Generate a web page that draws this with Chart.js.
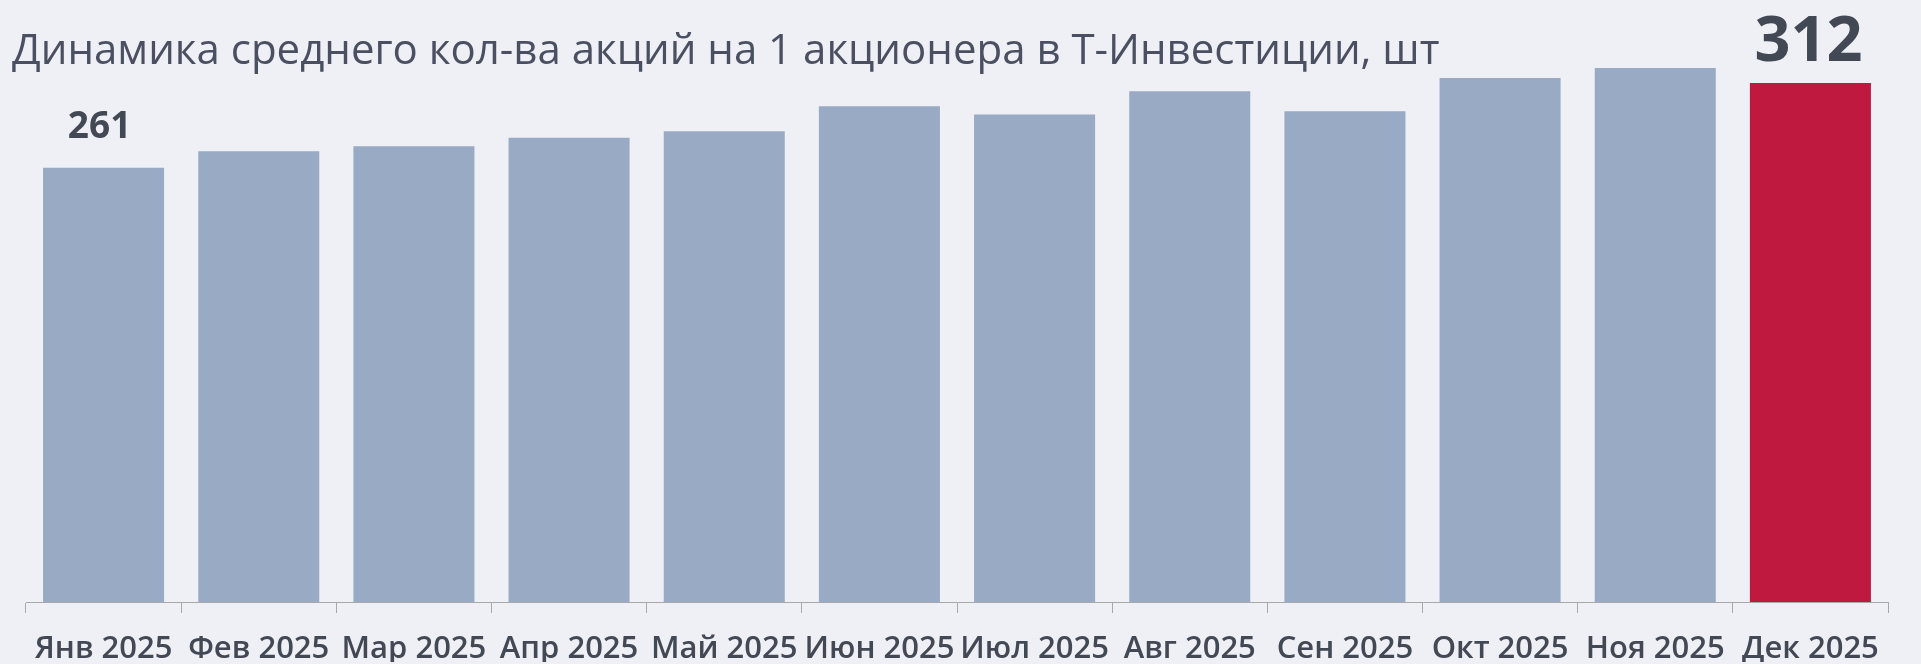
<!DOCTYPE html>
<html>
<head>
<meta charset="utf-8">
<script src="https://cdn.jsdelivr.net/npm/chart.js@4/dist/chart.umd.min.js"></script>
<style>
  html, body { margin: 0; padding: 0; background: #eff0f5; }
  #wrap { position: relative; width: 1921px; height: 664px; }
  #title {
    position: absolute; left: 12px; top: 27px;
    font-family: "Open Sans", sans-serif; font-size: 42px; line-height: 42px;
    color: #4a5061; white-space: nowrap; z-index: 2;
  }
</style>
</head>
<body>
<div id="wrap">
  <div id="title">Динамика среднего кол-ва акций на 1 акционера в Т-Инвестиции, шт</div>
  <canvas id="chart" width="1921" height="664"></canvas>
</div>
<script>
// values
const months = ['Янв 2025', 'Фев 2025', 'Мар 2025', 'Апр 2025', 'Май 2025', 'Июн 2025',
                'Июл 2025', 'Авг 2025', 'Сен 2025', 'Окт 2025', 'Ноя 2025', 'Дек 2025'];
const avgShares = [261, 271, 274, 279, 283, 298, 293, 307, 295, 315, 321, 312];
const labelledIdx = [0, 11];

const barGray = '#99aac4';
const barRed = '#c0193f';
const textColor = '#424854';

// value labels above first / last bar
const valueLabels = {
  id: 'valueLabels',
  afterDatasetsDraw(chart) {
    const ctx = chart.ctx;
    const meta = chart.getDatasetMeta(0);
    ctx.save();
    ctx.fillStyle = textColor;
    ctx.textAlign = 'center';
    ctx.textBaseline = 'alphabetic';
    labelledIdx.forEach(i => {
      const bar = meta.data[i];
      const last = i === avgShares.length - 1;
      ctx.font = (last ? 'bold 63px' : 'bold 37px') + ' "Open Sans", sans-serif';
      ctx.fillText(String(avgShares[i]), bar.x - (last ? 2 : 4), bar.y - (last ? 22 : 30));
    });
    ctx.restore();
  }
};

new Chart(document.getElementById('chart').getContext('2d'), {
  type: 'bar',
  data: {
    labels: months,
    datasets: [{
      data: avgShares,
      backgroundColor: avgShares.map((v, i) => i === avgShares.length - 1 ? barRed : barGray),
      categoryPercentage: 1,
      barPercentage: 0.78
    }]
  },
  options: {
    responsive: false,
    animation: false,
    layout: { padding: { top: 53, left: 26, right: 33, bottom: 2 } },
    plugins: {
      legend: { display: false },
      tooltip: { enabled: false }
    },
    scales: {
      x: {
        afterFit(scale) { scale.height = 60; },
        grid: { drawOnChartArea: false, tickLength: 11, color: '#a8a8a8', offset: true },
        border: { display: true, color: '#a8a8a8' },
        ticks: {
          color: textColor,
          padding: 18,
          maxRotation: 0,
          autoSkip: false,
          font: { family: '"Open Sans", sans-serif', size: 31, weight: '600' }
        }
      },
      y: {
        display: false,
        min: 0,
        max: 330
      }
    }
  },
  plugins: [valueLabels]
});
</script>
</body>
</html>
